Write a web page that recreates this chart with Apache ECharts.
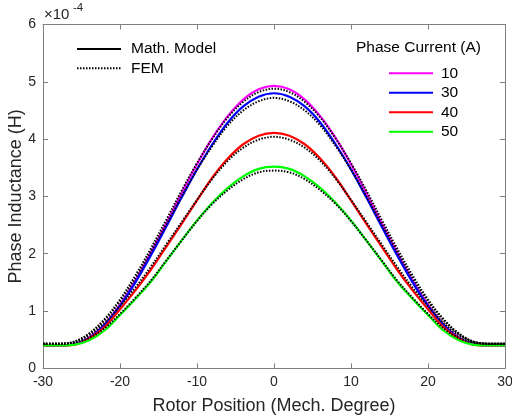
<!DOCTYPE html>
<html>
<head>
<meta charset="utf-8">
<script src="https://cdn.jsdelivr.net/npm/echarts@6/dist/echarts.min.js"></script>
<style>
html,body{margin:0;padding:0;background:#fff;}
#chart{width:512px;height:417px;}
</style>
</head>
<body>
<div id="chart"></div>
<script>
// Rotor position (mech. degree)
const xs = [-30,-28,-26,-24,-22,-20,-18,-16,-14,-12,-10,-8,-6,-4,-2,0,2,4,6,8,10,12,14,16,18,20,22,24,26,28,30];
// Math. Model, phase inductance (x1e-4 H)
const math10 = [0.40,0.40,0.42,0.54,0.77,1.11,1.53,2.02,2.53,3.06,3.56,4.02,4.40,4.69,4.87,4.93,4.87,4.69,4.40,4.02,3.56,3.06,2.53,2.02,1.53,1.11,0.77,0.54,0.42,0.40,0.40];
const math30 = [0.40,0.40,0.42,0.53,0.76,1.09,1.50,1.97,2.47,2.98,3.47,3.91,4.29,4.57,4.74,4.80,4.74,4.57,4.29,3.91,3.47,2.98,2.47,1.97,1.50,1.09,0.76,0.53,0.42,0.40,0.40];
const math40 = [0.40,0.40,0.41,0.52,0.72,1.03,1.36,1.72,2.12,2.52,2.93,3.33,3.66,3.91,4.06,4.11,4.06,3.91,3.66,3.33,2.93,2.52,2.12,1.72,1.36,1.03,0.72,0.52,0.41,0.40,0.40];
const math50 = [0.40,0.40,0.41,0.49,0.66,0.93,1.21,1.51,1.87,2.23,2.58,2.89,3.15,3.35,3.48,3.52,3.48,3.35,3.15,2.89,2.58,2.23,1.87,1.51,1.21,0.93,0.66,0.49,0.41,0.40,0.40];
// FEM, phase inductance (x1e-4 H)
const fem10 = [0.43,0.43,0.46,0.61,0.86,1.20,1.62,2.09,2.59,3.10,3.58,4.01,4.38,4.65,4.82,4.88,4.82,4.65,4.38,4.01,3.58,3.10,2.59,2.09,1.62,1.20,0.86,0.61,0.46,0.43,0.43];
const fem30 = [0.43,0.43,0.46,0.60,0.84,1.17,1.57,2.03,2.51,3.00,3.47,3.88,4.24,4.50,4.66,4.72,4.66,4.50,4.24,3.88,3.47,3.00,2.51,2.03,1.57,1.17,0.84,0.60,0.46,0.43,0.43];
const fem40 = [0.43,0.43,0.46,0.58,0.79,1.09,1.41,1.77,2.16,2.55,2.94,3.31,3.62,3.85,3.99,4.04,3.99,3.85,3.62,3.31,2.94,2.55,2.16,1.77,1.41,1.09,0.79,0.58,0.46,0.43,0.43];
const fem50 = [0.43,0.43,0.45,0.53,0.70,0.95,1.23,1.53,1.88,2.23,2.57,2.87,3.11,3.30,3.42,3.45,3.42,3.30,3.11,2.87,2.57,2.23,1.88,1.53,1.23,0.95,0.70,0.53,0.45,0.43,0.43];
const currents = ['10','30','40','50'];
const colors = ['#ff00ff','#0000ff','#ff0000','#00ff00'];
const mathSets = [math10, math30, math40, math50];
const femSets = [fem10, fem30, fem40, fem50];

const FONT = 'Liberation Sans, Arial, Helvetica, sans-serif';
const TXT = '#262626';
const AX = '#808080';
const pair = arr => xs.map((x, i) => [x, arr[i]]);

const series = [];
series.push({name:'Math. Model', type:'line', data:[], symbol:'none', lineStyle:{color:'#000', width:2.5}, itemStyle:{color:'#000'}});
mathSets.forEach((d, i) => {
  series.push({name: currents[i], type:'line', data: pair(d), symbol:'none', smooth:0.35,
    lineStyle:{color: colors[i], width:2.2}, itemStyle:{color: colors[i]}});
});
femSets.forEach((d) => {
  series.push({name:'FEM', type:'line', data: pair(d), symbol:'none', smooth:0.35,
    lineStyle:{color:'#000', width:2, type:[1.5,1.5]}, itemStyle:{color:'#000'}});
});

const axisCommon = {
  axisLine:{show:true, onZero:false, lineStyle:{color:AX, width:1}},
  axisTick:{show:true, inside:true, length:5, lineStyle:{color:AX}},
  splitLine:{show:false}
};

const chart = echarts.init(document.getElementById('chart'), null, {renderer:'canvas'});
chart.setOption({
  animation:false,
  backgroundColor:'#fff',
  grid:{left:43, right:7, top:24.5, bottom:48.7, containLabel:false, outerBoundsMode:'none'},
  xAxis:[
    Object.assign({}, axisCommon, {type:'value', position:'bottom', min:-30, max:30, interval:10,
      axisLabel:{color:TXT, fontSize:14, fontFamily:FONT, margin:7},
      name:'Rotor Position (Mech. Degree)', nameLocation:'middle', nameGap:29, nameMoveOverlap:false,
      nameTextStyle:{color:TXT, fontSize:18, fontFamily:FONT}}),
    Object.assign({}, axisCommon, {type:'value', position:'top', min:-30, max:30, interval:10,
      axisLabel:{show:false}})
  ],
  yAxis:[
    Object.assign({}, axisCommon, {type:'value', position:'left', min:0, max:6, interval:1,
      axisLabel:{color:TXT, fontSize:14, fontFamily:FONT, margin:7},
      name:'Phase Inductance (H)', nameLocation:'middle', nameGap:18, nameMoveOverlap:false,
      nameTextStyle:{color:TXT, fontSize:18, fontFamily:FONT}}),
    Object.assign({}, axisCommon, {type:'value', position:'right', min:0, max:6, interval:1,
      axisLabel:{show:false}})
  ],
  legend:[
    {data:['Math. Model','FEM'], orient:'vertical', left:76, top:39.3, padding:0, itemGap:0,
      itemWidth:44, itemHeight:10, itemStyle:{opacity:0},
      textStyle:{color:'#000', fontSize:15.5, fontFamily:FONT, lineHeight:19.3, padding:[0,0,0,5]}},
    {data:currents, orient:'vertical', left:388, top:63.5, padding:0, itemGap:0,
      itemWidth:44, itemHeight:10, itemStyle:{opacity:0},
      textStyle:{color:'#000', fontSize:15.5, fontFamily:FONT, lineHeight:19.5, padding:[0,0,0,3]}}
  ],
  graphic:[
    {type:'text', left:356, top:40, style:{text:'Phase Current (A)', fill:'#000', font:'15.5px ' + FONT}},
    {type:'text', left:44, top:7, style:{text:'×10', fill:TXT, font:'15px ' + FONT}},
    {type:'text', left:73, top:2, style:{text:'-4', fill:TXT, font:'11.5px ' + FONT}}
  ],
  series: series
});
</script>
</body>
</html>
